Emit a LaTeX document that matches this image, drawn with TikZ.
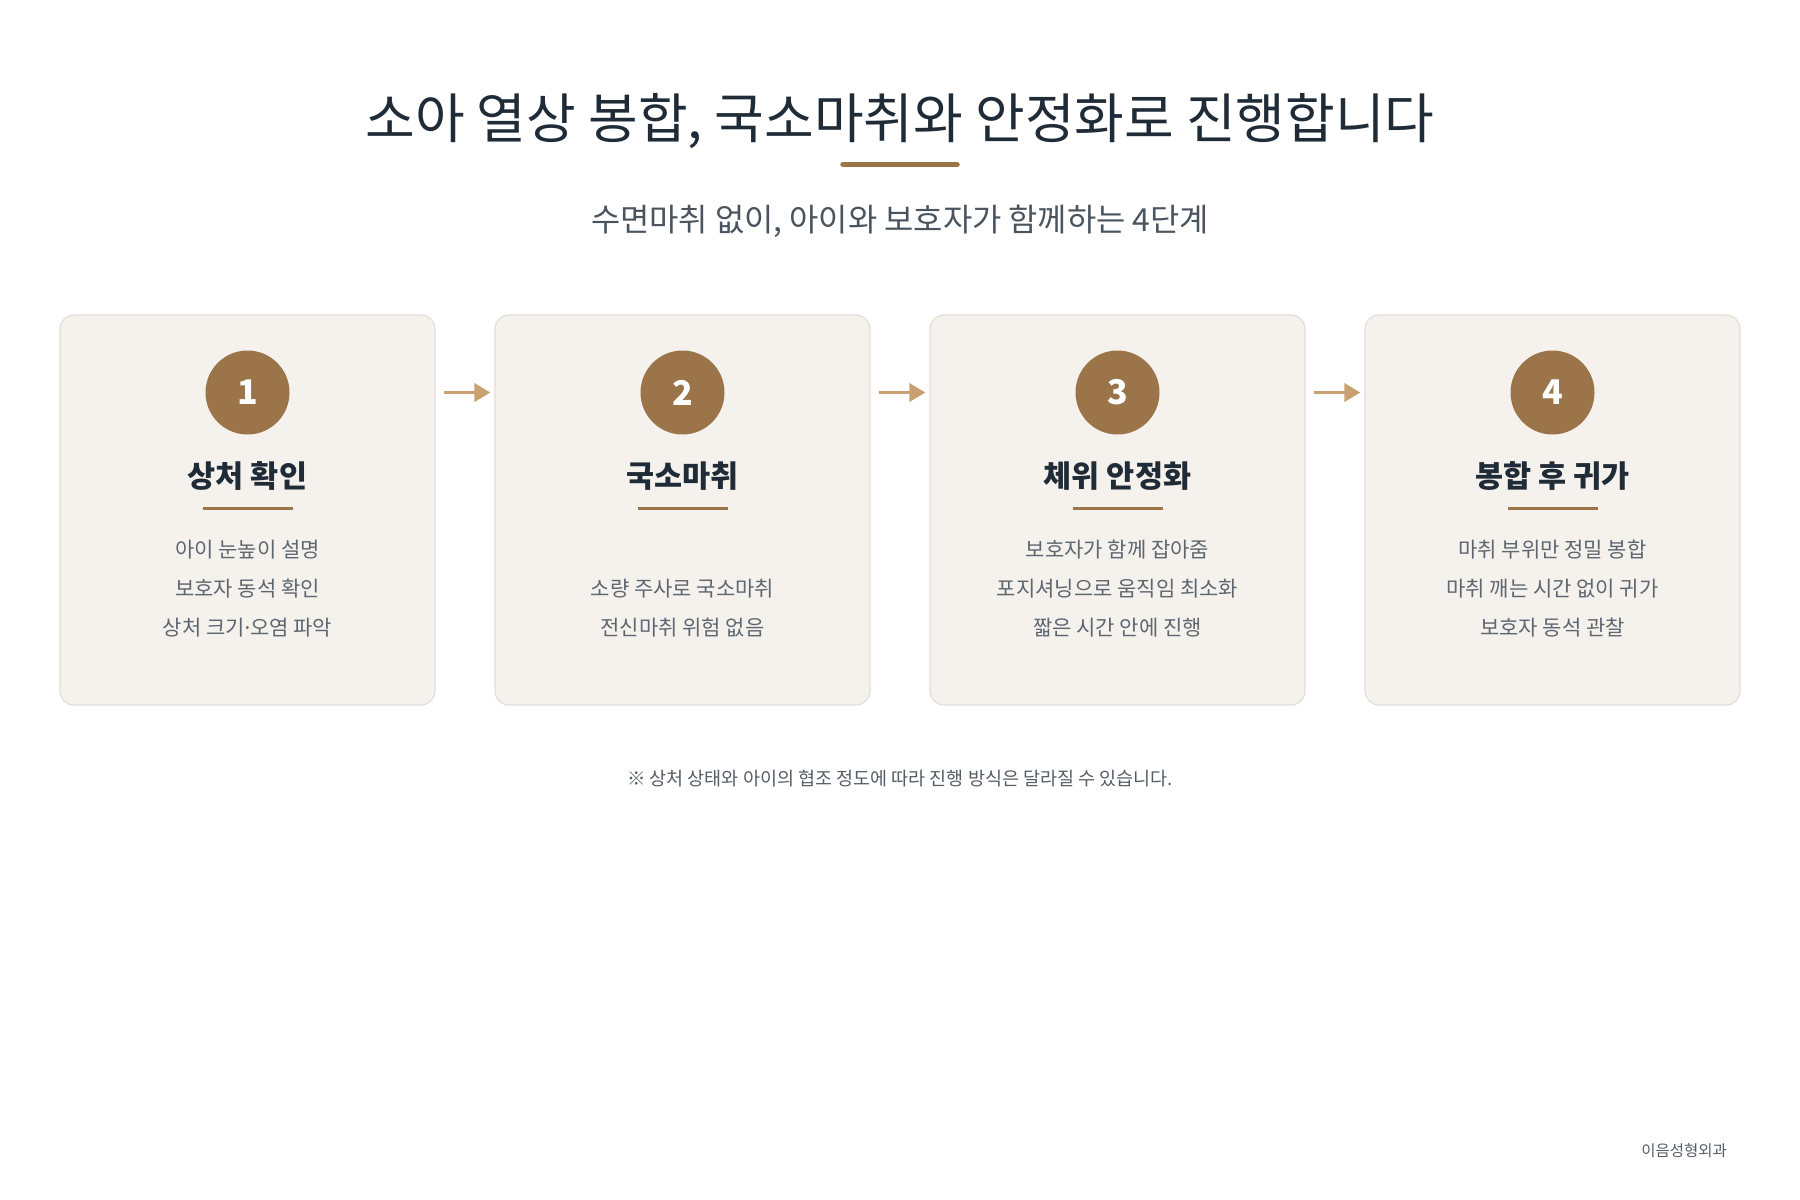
\documentclass[tikz,border=0pt]{standalone}
\usepackage{fontspec}
\setmainfont{Noto Sans CJK KR}
\newfontfamily\latinfont{Noto Sans}
\usetikzlibrary{arrows.meta}
\definecolor{titlec}{HTML}{1F2B36}
\definecolor{subc}{HTML}{4A545E}
\definecolor{bodyc}{HTML}{5E6670}
\definecolor{accent}{HTML}{9B7549}
\definecolor{arrowc}{HTML}{C9A070}
\definecolor{cardfill}{HTML}{F5F2EE}
\definecolor{cardline}{HTML}{E3DED8}
\definecolor{notec}{HTML}{555D66}
\begin{document}
\begin{tikzpicture}[x=1pt,y=-1pt,
  card/.style={draw=cardline, line width=1.2pt, fill=cardfill, rounded corners=14pt,
    minimum width=375pt, minimum height=390pt, inner sep=0pt},
  numcirc/.style={circle, fill=accent, minimum size=84pt, inner sep=0pt,
    text=white, font=\fontsize{34}{36}\selectfont\bfseries},
  steptitle/.style={text=titlec, font=\fontsize{30.5}{34}\selectfont\bfseries, inner sep=0pt},
  stepbody/.style={text=bodyc, font=\fontsize{21}{39}\selectfont, align=center, inner sep=0pt},
  flowarrow/.style={draw=arrowc, line width=3.5pt, -{Triangle[length=16pt,width=18pt]},
    shorten <=8pt, shorten >=4pt},
  rule/.style={draw=accent, line width=3pt}
]
\useasboundingbox (0,0) rectangle (1800,1200);
\fill[white] (0,0) rectangle (1800,1200);

\node[text=titlec, font=\fontsize{54}{60}\selectfont, inner sep=0pt] (title) at (900,121.5)
  {소아 열상 봉합, 국소마취와 안정화로 진행합니다};
\draw[accent, line width=5.5pt, line cap=round] (843,164.5) -- (957,164.5);
\node[text=subc, font=\fontsize{31.8}{36}\selectfont, inner sep=0pt] (sub) at (900,221.5)
  {수면마취 없이, 아이와 보호자가 함께하는 4단계};

\foreach \i/\num/\ttl in {1/1/상처 확인, 2/2/국소마취, 3/3/체위 안정화, 4/4/봉합 후 귀가}{
  \pgfmathsetmacro{\cx}{247.5+435*(\i-1)}
  \node[card] (c\i) at (\cx,510) {};
  \node[numcirc] (n\i) at (\cx,392.5) {\num};
  \node[steptitle] (t\i) at (\cx,476) {\ttl};
  \draw[rule] (\cx-45,508.5) -- (\cx+45,508.5);
}

\node[stepbody] (b1) at (247.5,589) {아이 눈높이 설명\\보호자 동석 확인\\상처 크기{\latinfont ·}오염 파악};
\node[stepbody] (b2) at (682.5,608.5) {소량 주사로 국소마취\\전신마취 위험 없음};
\node[stepbody] (b3) at (1117.5,589) {보호자가 함께 잡아줌\\포지셔닝으로 움직임 최소화\\짧은 시간 안에 진행};
\node[stepbody] (b4) at (1552.5,589) {마취 부위만 정밀 봉합\\마취 깨는 시간 없이 귀가\\보호자 동석 관찰};

\draw[flowarrow] (c1.east |- n1) -- (c2.west |- n2);
\draw[flowarrow] (c2.east |- n2) -- (c3.west |- n3);
\draw[flowarrow] (c3.east |- n3) -- (c4.west |- n4);

\node[text=notec, font=\fontsize{18.5}{22}\selectfont, inner sep=0pt] (note) at (900,778.5)
  {※ 상처 상태와 아이의 협조 정도에 따라 진행 방식은 달라질 수 있습니다.};
\node[text=notec, font=\fontsize{15.5}{18}\selectfont, inner sep=0pt, anchor=east] (footer) at (1727,1151)
  {이음성형외과};
\end{tikzpicture}
\end{document}
